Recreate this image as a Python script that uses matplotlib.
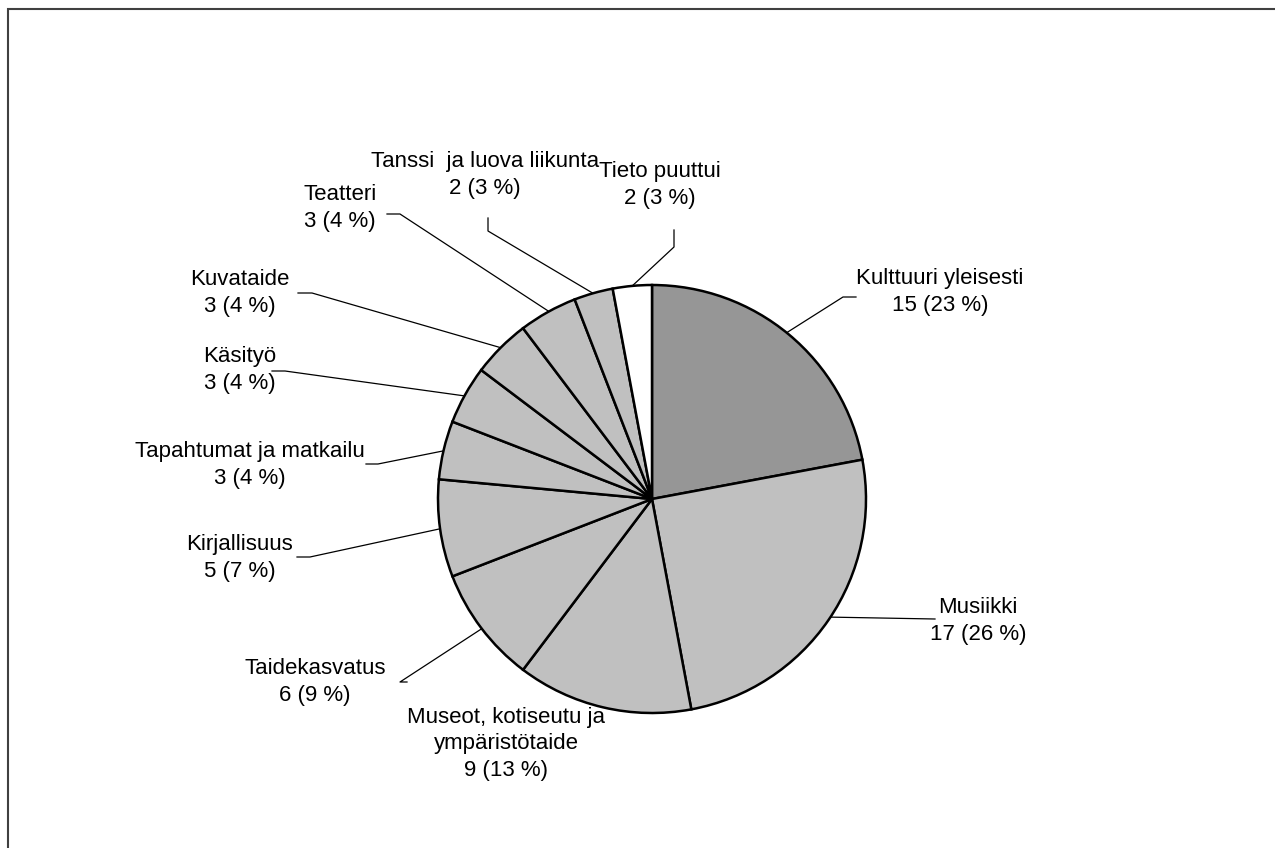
import numpy as np
import matplotlib
matplotlib.use("Agg")
import matplotlib.pyplot as plt
from matplotlib.patches import Rectangle

plt.rcParams['font.family'] = ['Liberation Sans', 'DejaVu Sans']

categories = ['Kulttuuri yleisesti', 'Musiikki', 'Museot, kotiseutu ja\nympäristötaide',
              'Taidekasvatus', 'Kirjallisuus', 'Tapahtumat ja matkailu', 'Käsityö',
              'Kuvataide', 'Teatteri', 'Tanssi  ja luova liikunta', 'Tieto puuttui']
values = [15, 17, 9, 6, 5, 3, 3, 3, 3, 2, 2]
percents = [23, 26, 13, 9, 7, 4, 4, 4, 4, 3, 3]
colors = ['#969696'] + ['#c0c0c0'] * 9 + ['#ffffff']

# pie geometry in pixels
CX, CY, R = 652, 499, 214
W, H = 1275, 848


def px(x, y):
    return ((x - CX) / R, (CY - y) / R)


# label layout: text centre, leader (anchor angle on pie edge, then polyline points)
text_pos = [(940, 292), (978, 621), (506, 744), (315, 682), (240, 558), (250, 465),
            (240, 370), (240, 293), (340, 208), (485, 175), (660, 185)]
anchor_ang = [51, -33.5, None, -142.7, 188, 167, 151.2, 135, 118.8, 106, 95.3]
leader_pts = [
    [(843, 297), (856, 297)],
    [(935, 619)],
    None,
    [(400, 682), (407, 682)],
    [(310, 557), (297, 557)],
    [(378, 464), (366, 464)],
    [(285, 371), (272, 371)],
    [(312, 293), (298, 293)],
    [(400, 214), (387, 214)],
    [(488, 231), (488, 218)],
    [(674, 247), (674, 230)],
]

fig = plt.figure(figsize=(W / 100, H / 100), dpi=100)
ax = fig.add_axes([0, 0, 1, 1])

ax.pie(values, colors=colors, startangle=90, counterclock=False,
       wedgeprops=dict(edgecolor='black', linewidth=1.8))

for i, cat in enumerate(categories):
    tx, ty = px(*text_pos[i])
    ax.text(tx, ty, f"{cat}\n{values[i]} ({percents[i]} %)", ha='center', va='center',
            multialignment='center', fontsize=16, linespacing=1.37, color='black')
    if leader_pts[i] is None:
        continue
    a = np.deg2rad(anchor_ang[i])
    xs = [np.cos(a)]
    ys = [np.sin(a)]
    for p in leader_pts[i]:
        dx, dy = px(*p)
        xs.append(dx)
        ys.append(dy)
    ax.plot(xs, ys, color='black', linewidth=0.9, zorder=0)

ax.set_xlim(-CX / R, (W - CX) / R)
ax.set_ylim((CY - H) / R, CY / R)
ax.set_aspect('auto')
ax.axis('off')

fig.patches.append(Rectangle((7.5 / W, -0.05), 1.2, (H - 8.5) / H + 0.05,
                             transform=fig.transFigure, fill=False,
                             edgecolor='#404040', linewidth=1.5))

fig.savefig('out.png', dpi=100)
